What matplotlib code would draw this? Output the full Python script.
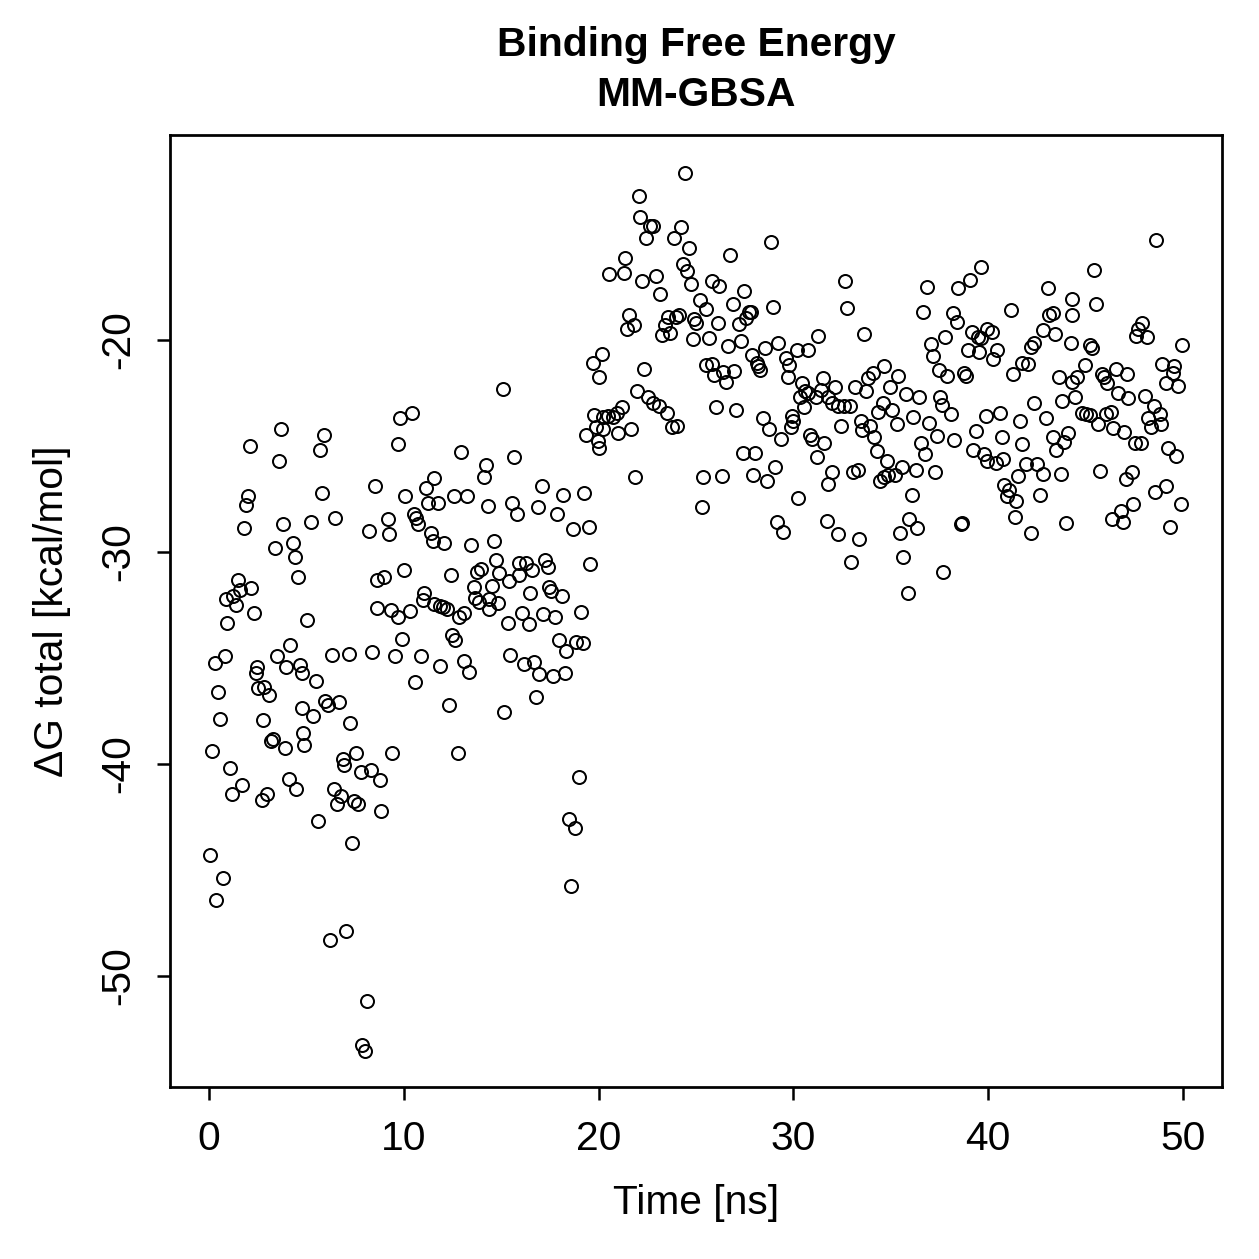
import matplotlib
matplotlib.use("Agg")
import matplotlib.pyplot as plt

plt.rcParams['font.family'] = ['Liberation Sans', 'DejaVu Sans']
plt.rcParams['axes.unicode_minus'] = False

# time [ns] and dG total [kcal/mol] (0-50 ns)
time_ns = [
    0.05, 0.7, 0.35, 0.15, 1.1, 1.7, 1.2, 2.7, 3.0, 4.1, 4.45, 3.3, 3.2, 3.9, 4.85, 4.9,
    0.55, 2.75, 4.8, 0.45, 2.5, 2.85, 3.1, 2.45, 2.4, 3.95, 4.65, 4.75, 0.8, 0.3, 3.5, 4.15,
    0.95, 2.3, 0.85, 1.25, 1.4, 1.5, 1.6, 2.15, 4.55, 1.8, 3.8, 3.4, 4.3, 4.4, 2.0, 1.9,
    2.1, 3.6, 3.7,
    9.8, 9.7, 5.9, 5.7, 5.8, 8.5, 10.05, 6.45, 5.25, 8.2, 9.2, 9.25, 8.65, 9.0, 10.0, 5.05,
    8.6, 9.35, 9.7, 9.9, 6.3, 7.2, 8.35, 9.55, 5.5, 5.95, 6.1, 6.7, 5.35, 7.25, 6.9, 6.95,
    7.55, 9.4, 7.8, 8.3, 8.8, 6.4, 6.8, 6.55, 7.45, 7.65, 8.85, 5.6, 7.35, 6.2, 7.05, 8.1,
    7.85, 8.0,
    10.4, 12.95, 14.2, 14.1, 11.55, 11.15, 11.25, 11.75, 12.6, 13.25, 14.3, 10.5, 10.65,
    10.75, 11.4, 11.5, 12.05, 13.45, 14.65, 14.75, 12.4, 13.75, 13.95, 14.9, 13.6, 14.55,
    13.65, 13.85, 14.4, 14.35, 14.85, 11.05, 11.0, 11.55, 11.85, 12.0, 12.2, 12.85, 13.1,
    10.3, 12.45, 12.65, 10.9, 11.85, 13.1, 13.35, 10.6, 12.3, 12.8,
    20.2, 19.7, 20.0, 15.1, 19.75, 19.85, 19.35, 19.95, 20.0, 15.65, 17.1, 18.15, 19.25,
    15.55, 15.8, 16.9, 17.85, 18.7, 19.5, 19.55, 15.4, 15.9, 16.25, 16.6, 15.9, 17.25, 17.4,
    16.5, 17.45, 17.55, 18.1, 15.35, 16.05, 16.45, 17.15, 17.75, 19.1, 17.95, 18.35, 18.85,
    19.2, 15.45, 16.15, 16.7, 16.95, 17.65, 18.25, 16.8, 15.15, 19.0, 18.5, 18.8, 18.6,
    24.45, 22.05, 22.15, 22.65, 22.8, 22.45, 24.25, 23.85, 24.65, 24.35, 24.55, 24.75,
    21.35, 20.55, 21.3, 22.25, 22.95, 23.15, 21.55, 21.8, 21.45, 23.25, 23.4, 23.65, 23.55,
    23.95, 24.15, 24.9, 25.0, 24.85, 22.35, 21.95, 22.55, 22.8, 23.1, 23.5, 23.75, 24.05,
    20.25, 20.5, 20.75, 20.95, 21.2, 20.25, 21.0, 21.65, 21.85,
    28.85, 26.75, 25.8, 26.2, 27.45, 25.2, 25.5, 26.9, 28.95, 27.55, 27.7, 27.8, 27.2,
    26.15, 25.65, 26.65, 27.3, 27.9, 28.55, 29.2, 25.5, 25.8, 25.9, 26.4, 26.55, 26.95,
    28.15, 28.2, 28.3, 29.6, 29.75, 29.7, 26.05, 27.05, 28.45, 28.75, 29.35, 27.4, 28.05,
    25.35, 26.35, 27.95, 28.65, 29.05, 25.3, 29.15, 29.45,
    32.65, 32.75, 33.6, 31.25, 30.2, 30.75, 34.65, 34.1, 33.85, 33.75, 30.45, 30.6, 30.75,
    30.35, 30.55, 31.5, 31.4, 31.15, 32.15, 31.8, 32.0, 32.3, 32.6, 32.9, 33.15, 34.6,
    34.35, 29.95, 30.0, 29.9, 32.45, 33.45, 33.5, 33.95, 34.15, 30.85, 30.95, 31.55, 31.2,
    34.3, 34.8, 32.0, 31.8, 33.05, 33.3, 34.45, 34.65, 34.85, 30.25, 31.7, 32.3, 33.35,
    32.95,
    39.65, 39.05, 38.45, 36.85, 36.65, 38.2, 38.4, 39.15, 39.45, 39.65, 39.95, 37.8, 37.05,
    37.15, 38.95, 39.55, 37.45, 37.9, 38.75, 38.85, 35.35, 34.95, 35.8, 36.45, 37.55,
    37.65, 38.1, 35.05, 35.3, 36.15, 36.95, 37.35, 36.55, 36.75, 38.25, 39.35, 39.9, 39.2,
    39.8, 39.95, 35.55, 35.2, 36.3, 37.25, 36.1, 35.95, 36.35, 35.45, 38.6, 38.65, 35.6,
    37.7, 35.9,
    43.05, 44.3, 44.3, 41.15, 43.1, 43.35, 42.8, 43.45, 40.2, 40.45, 40.25, 42.35, 42.2,
    44.25, 41.75, 42.05, 41.25, 43.65, 44.3, 44.55, 44.45, 43.8, 42.35, 40.6, 41.65, 42.95,
    40.7, 41.75, 43.3, 43.9, 44.1, 43.5, 40.4, 40.75, 41.95, 42.5, 41.55, 42.8, 43.75,
    40.8, 41.05, 40.95, 41.45, 42.65, 41.35, 42.2, 44.0,
    48.6, 45.45, 45.55, 47.9, 47.7, 47.6, 48.15, 45.2, 45.35, 49.95, 44.95, 45.85, 45.95,
    46.1, 46.55, 47.1, 48.9, 49.55, 49.5, 49.1, 49.75, 46.65, 47.2, 48.05, 48.5, 48.8,
    48.2, 48.35, 48.85, 44.8, 45.0, 45.2, 46.05, 46.3, 45.65, 46.4, 46.95, 47.55, 47.85,
    49.25, 49.65, 45.75, 47.05, 47.4, 48.55, 49.1, 49.9, 47.45, 46.35, 46.8, 46.9, 49.35,
]

dg_total = [
    -44.3, -45.4, -46.4, -39.4, -40.2, -41.0, -41.4, -41.7, -41.4, -40.7, -41.2, -38.8, -38.9,
    -39.25, -38.55, -39.1, -37.9, -37.95, -37.35, -36.6, -36.4, -36.35, -36.75, -35.45,
    -35.7, -35.45, -35.35, -35.7, -34.9, -35.25, -34.9, -34.4, -33.35, -32.9, -32.2, -32.1,
    -32.5, -31.3, -31.8, -31.7, -31.2, -28.85, -28.7, -29.8, -29.6, -30.25, -27.35, -27.8,
    -25.0, -25.7, -24.2,
    -23.7, -24.9, -24.5, -25.2, -27.2, -26.9, -27.35, -28.4, -28.6, -29.0, -28.45, -29.15,
    -31.3, -31.2, -30.85, -33.2, -32.65, -32.75, -33.05, -34.1, -34.85, -34.8, -34.7,
    -34.9, -36.1, -37.05, -37.2, -37.1, -37.75, -38.05, -39.75, -40.05, -39.5, -39.5,
    -40.4, -40.3, -40.75, -41.2, -41.5, -41.9, -41.75, -41.9, -42.2, -42.7, -43.75, -48.3,
    -47.9, -51.2, -53.25, -53.55,
    -23.45, -25.3, -25.9, -26.45, -26.5, -27.0, -27.7, -27.7, -27.35, -27.35, -27.85,
    -28.2, -28.4, -28.7, -29.1, -29.5, -29.6, -29.65, -29.5, -30.4, -31.1, -30.95, -30.8,
    -31.0, -31.65, -31.6, -32.15, -32.35, -32.2, -32.7, -32.4, -31.95, -32.25, -32.45,
    -32.55, -32.6, -32.7, -33.05, -32.9, -32.8, -33.9, -34.15, -34.9, -35.4, -35.15,
    -35.65, -36.15, -37.2, -39.5,
    -20.65, -21.1, -21.75, -22.3, -23.55, -24.1, -24.5, -24.75, -25.1, -25.5, -26.9, -27.3,
    -27.2, -27.7, -28.2, -27.9, -28.2, -28.9, -28.8, -30.55, -31.35, -30.5, -30.5, -30.85,
    -31.1, -30.4, -30.7, -31.95, -31.65, -31.85, -32.1, -33.35, -32.9, -33.4, -32.95,
    -33.05, -32.85, -34.15, -34.65, -34.25, -34.3, -34.85, -35.3, -35.2, -35.75, -35.85,
    -35.7, -36.85, -37.55, -40.6, -42.6, -43.0, -45.75,
    -12.1, -13.2, -14.2, -14.6, -14.6, -15.2, -14.65, -15.2, -15.65, -16.4, -16.75, -17.35,
    -16.15, -16.9, -16.85, -17.2, -17.0, -17.85, -18.8, -19.3, -19.5, -19.75, -19.3,
    -19.65, -18.9, -18.9, -18.8, -19.0, -19.2, -19.95, -21.35, -22.4, -22.7, -22.95, -23.1,
    -23.45, -24.1, -24.05, -23.65, -23.6, -23.65, -23.45, -23.15, -24.2, -24.4, -24.2,
    -26.45,
    -15.4, -16.0, -17.2, -17.45, -17.7, -18.1, -18.55, -18.3, -18.45, -18.95, -18.7, -18.7,
    -19.25, -19.2, -19.9, -20.3, -20.05, -20.7, -20.4, -20.15, -21.2, -21.15, -21.65, -21.5,
    -22.0, -21.45, -21.1, -21.25, -21.4, -20.85, -21.2, -21.75, -23.15, -23.3, -23.7,
    -24.2, -24.65, -25.35, -25.35, -26.45, -26.4, -26.35, -26.65, -26.0, -27.9, -28.6,
    -29.05,
    -17.2, -18.5, -19.7, -19.8, -20.45, -20.45, -21.25, -21.55, -21.8, -22.4, -22.05, -22.4,
    -22.5, -22.7, -23.15, -21.8, -22.35, -22.7, -22.2, -22.7, -22.95, -23.1, -23.1, -23.1,
    -22.2, -22.95, -23.4, -23.6, -23.8, -24.1, -24.05, -23.8, -24.25, -24.05, -24.6, -24.5,
    -24.65, -24.85, -25.5, -25.25, -25.7, -26.25, -26.8, -26.25, -26.15, -26.65, -26.45,
    -26.35, -27.45, -28.55, -29.15, -29.4, -30.45,
    -16.55, -17.15, -17.55, -17.5, -18.7, -18.75, -19.15, -19.6, -19.85, -19.9, -19.5,
    -19.85, -20.2, -20.75, -20.45, -20.55, -21.4, -21.7, -21.55, -21.7, -21.7, -22.2,
    -22.55, -22.7, -22.7, -23.05, -23.5, -23.3, -23.95, -23.65, -23.9, -24.55, -24.85,
    -25.4, -24.7, -24.3, -23.6, -25.2, -25.4, -25.7, -26.0, -26.35, -26.15, -26.25, -27.3,
    -28.45, -28.85, -29.1, -28.7, -28.65, -30.25, -30.95, -31.95,
    -17.55, -18.05, -18.8, -18.6, -18.8, -18.75, -19.55, -19.7, -19.6, -20.45, -20.9,
    -20.15, -20.35, -20.15, -21.1, -21.15, -21.6, -21.75, -22.0, -21.75, -22.7, -22.9,
    -22.95, -23.45, -23.8, -23.7, -24.6, -24.9, -24.6, -24.8, -24.4, -25.2, -25.8, -25.6,
    -25.85, -25.85, -26.4, -26.3, -26.3, -26.85, -27.1, -27.35, -27.6, -27.3, -28.35,
    -29.1, -28.65,
    -15.3, -16.7, -18.3, -19.2, -19.5, -19.8, -19.85, -20.25, -20.4, -20.25, -21.2, -21.6,
    -21.75, -22.05, -21.35, -21.6, -21.15, -21.25, -21.55, -22.05, -22.15, -22.5, -22.75,
    -22.65, -23.1, -23.5, -23.7, -24.1, -23.95, -23.45, -23.5, -23.55, -23.5, -23.4,
    -23.95, -24.15, -24.35, -24.85, -24.85, -25.1, -25.45, -26.2, -26.55, -26.25, -27.15,
    -26.9, -27.75, -27.75, -28.45, -28.05, -28.6, -28.8,
]

x_ticks = [0, 10, 20, 30, 40, 50]
y_ticks = [-50, -40, -30, -20]

fig = plt.figure(figsize=(1259 / 180, 1259 / 180), dpi=180)
ax = fig.add_axes([170 / 1259, 1 - 1087 / 1259, 1052 / 1259, 952 / 1259])

ax.plot(time_ns, dg_total, linestyle='none', marker='o', ms=5.2,
        mfc='none', mec='black', mew=0.8)

ax.set_xlim(-2, 52)
ax.set_ylim(-55.24, -10.33)
ax.set_xticks(x_ticks)
ax.set_yticks(y_ticks)
for s in ax.spines.values():
    s.set_linewidth(1.1)
ax.tick_params(direction='out', length=5.2, width=1.0, labelsize=16.3, pad=8)
ax.tick_params(axis='y', labelrotation=90)
for lab in ax.get_yticklabels():
    lab.set_va('center')

fig.text(0.5528, 1 - 45 / 1259, 'Binding Free Energy', ha='center', va='center',
         fontsize=16.3, fontweight='bold')
fig.text(0.5528, 1 - 95 / 1259, 'MM-GBSA', ha='center', va='center',
         fontsize=16.3, fontweight='bold')
fig.text(0.5528, 1 - 1203 / 1259, 'Time [ns]', ha='center', va='center', fontsize=16.3)
fig.text(52 / 1259, 1 - 611 / 1259, 'ΔG total [kcal/mol]', ha='center', va='center',
         rotation=90, fontsize=16.3)

fig.savefig('out.png', dpi=180)
